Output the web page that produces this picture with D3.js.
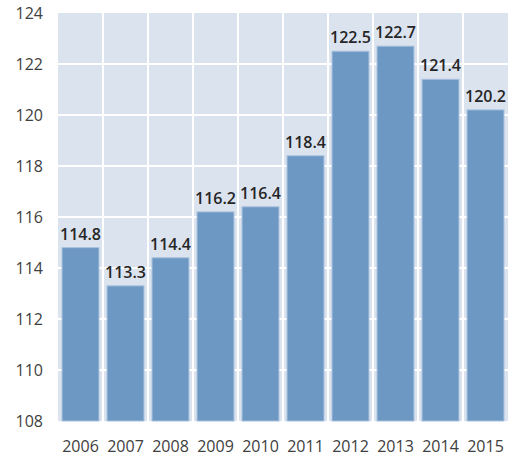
<!DOCTYPE html>
<html><head><meta charset="utf-8">
<script src="https://cdn.jsdelivr.net/npm/d3@7"></script>
<style>body{margin:0;background:#fff;}svg{display:block;}</style>
</head><body>
<script>
const categories = ["2006","2007","2008","2009","2010","2011","2012","2013","2014","2015"];
const values = [114.8,113.3,114.4,116.2,116.4,118.4,122.5,122.7,121.4,120.2];
const yTicks = [108,110,112,114,116,118,120,122,124];

const W=510,H=457;
const m={left:58,right:2,top:13,bottom:36};
const svg=d3.select("body").append("svg").attr("width",W).attr("height",H);
const x=d3.scaleBand().domain(categories).range([m.left,W-m.right]).paddingInner(0.18).paddingOuter(0.09);
const y=d3.scaleLinear().domain([108,124]).range([H-m.bottom,m.top]);

svg.append("rect").attr("x",m.left).attr("y",m.top).attr("width",W-m.right-m.left).attr("height",H-m.bottom-m.top).attr("fill","#dbe3ef");

const gap=(x.step()-x.bandwidth())/2;
svg.append("g").selectAll("line").data(categories.slice(1)).join("line")
 .attr("x1",d=>x(d)-gap).attr("x2",d=>x(d)-gap)
 .attr("y1",m.top).attr("y2",H-m.bottom).attr("stroke","#fff").attr("stroke-width",2);
svg.append("g").selectAll("line").data(yTicks.slice(1,-1)).join("line")
 .attr("x1",m.left).attr("x2",W-m.right).attr("y1",d=>y(d)).attr("y2",d=>y(d)).attr("stroke","#fff").attr("stroke-width",2);

svg.append("g").selectAll("rect").data(values).join("rect")
 .attr("x",(d,i)=>x(categories[i])).attr("width",x.bandwidth())
 .attr("y",d=>y(d)).attr("height",d=>y(108)-y(d))
 .attr("fill","#6d98c3").attr("stroke","#a8c0dc").attr("stroke-width",1);

svg.append("g").selectAll("text").data(values).join("text")
 .attr("x",(d,i)=>x(categories[i])+x.bandwidth()/2).attr("y",d=>y(d)-8)
 .attr("text-anchor","middle").attr("font-family","'Open Sans', sans-serif").attr("font-weight","600")
 .attr("font-size",16).attr("fill","#262626").text(d=>d.toFixed(1));

const ya=svg.append("g").attr("transform",`translate(${m.left},0)`).call(d3.axisLeft(y).tickValues(yTicks).tickSize(0).tickPadding(15));
ya.select(".domain").remove();
ya.selectAll("text").attr("font-family","'Open Sans', sans-serif").attr("font-size",16).attr("fill","#404040");
const xa=svg.append("g").attr("transform",`translate(0,${H-m.bottom})`).call(d3.axisBottom(x).tickSize(0).tickPadding(0));
xa.select(".domain").remove();
xa.selectAll("text").attr("dy",null).attr("y",31).attr("font-family","'Open Sans', sans-serif").attr("font-size",16).attr("fill","#404040");
</script>
</body></html>
